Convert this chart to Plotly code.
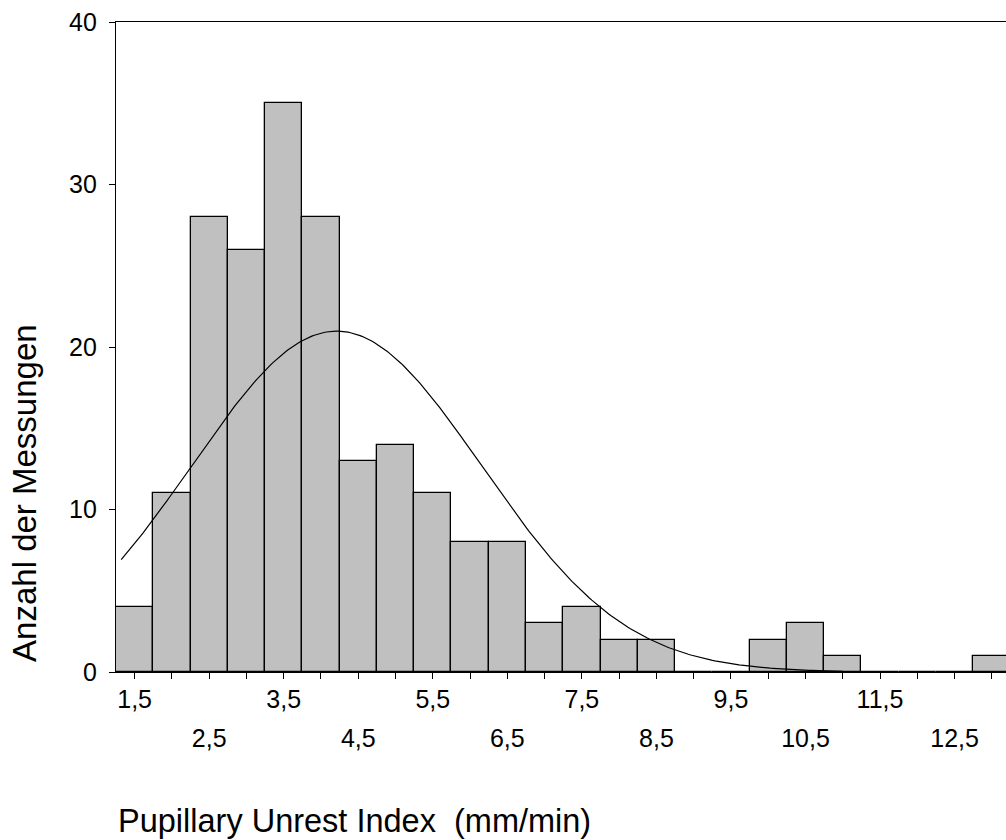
import plotly.graph_objects as go
import math

# Histogram bins (centers, width 0.5) and counts
bin_centers = [1.5, 2.0, 2.5, 3.0, 3.5, 4.0, 4.5, 5.0, 5.5, 6.0, 6.5, 7.0, 7.5,
               8.0, 8.5, 9.0, 9.5, 10.0, 10.5, 11.0, 11.5, 12.0, 12.5, 13.0]
counts = [4, 11, 28, 26, 35, 28, 13, 14, 11, 8, 8, 3, 4,
          2, 2, 0, 0, 2, 3, 1, 0, 0, 0, 1]
bin_width = 0.5

# Fitted normal curve parameters
fit_mean = 4.21
fit_sd = 1.94
curve_start = 1.32
curve_end = 11.0

row1_ticks = [1.5, 3.5, 5.5, 7.5, 9.5, 11.5]
row2_ticks = [2.5, 4.5, 6.5, 8.5, 10.5, 12.5]
minor_ticks = [1.5 + 0.5 * i for i in range(24)]
y_ticks = [0, 10, 20, 30, 40]

def fmt(v):
    return f"{v:.1f}".replace(".", ",")

n_total = sum(counts)
n_pts = 300
cx = [curve_start + (curve_end - curve_start) * i / (n_pts - 1) for i in range(n_pts)]
cy = [n_total * bin_width / (fit_sd * math.sqrt(2 * math.pi)) *
      math.exp(-((x - fit_mean) ** 2) / (2 * fit_sd ** 2)) for x in cx]

FONT = "Liberation Sans, Arial, sans-serif"
XR = [1.25, 13.19]

fig = go.Figure()
fig.add_trace(go.Bar(x=bin_centers, y=counts, width=bin_width,
                     marker=dict(color="#c0c0c0", line=dict(color="black", width=1.3)),
                     showlegend=False, hoverinfo="x+y"))
fig.add_trace(go.Scatter(x=cx, y=cy, mode="lines",
                         line=dict(color="black", width=1.2), showlegend=False))
fig.add_trace(go.Scatter(x=[row2_ticks[0]], y=[0], xaxis="x2", mode="markers",
                         marker=dict(opacity=0), showlegend=False, hoverinfo="skip"))

ticktext1 = [fmt(v) if any(abs(v - t) < 1e-9 for t in row1_ticks) else "" for v in minor_ticks]

fig.update_layout(
    width=1006, height=840,
    margin=dict(l=116, r=0, t=22, b=168),
    paper_bgcolor="white", plot_bgcolor="white",
    font=dict(family=FONT, color="black"),
    bargap=0,
    xaxis=dict(range=XR, tickvals=minor_ticks, ticktext=ticktext1,
               ticks="outside", ticklen=6, tickwidth=1.3, tickcolor="black",
               showline=True, linecolor="black", linewidth=1.3, mirror=True,
               showgrid=False, zeroline=False,
               tickfont=dict(size=25, family=FONT), ticklabelstandoff=-1),
    xaxis2=dict(range=XR, overlaying="x", anchor="y", side="bottom",
                tickvals=row2_ticks, ticktext=[fmt(v) for v in row2_ticks],
                ticks="", showline=False, showgrid=False, zeroline=False,
                tickfont=dict(size=25, family=FONT), ticklabelstandoff=49),
    yaxis=dict(range=[0, 40], tickvals=y_ticks, ticktext=[str(v) for v in y_ticks],
               ticks="outside", ticklen=6, tickwidth=1.3, tickcolor="black",
               showline=True, linecolor="black", linewidth=1.3,
               showgrid=False, zeroline=False,
               tickfont=dict(size=25, family=FONT), ticklabelstandoff=7),
    annotations=[
        dict(text="Pupillary Unrest Index\u00a0 (mm/min)", xref="paper", yref="paper",
             x=0, y=-0.2286, xanchor="left", yanchor="middle", showarrow=False,
             font=dict(size=32.5, family=FONT)),
        dict(text="Anzahl der Messungen", xref="paper", yref="paper",
             x=-0.103, y=0.276, xanchor="center", yanchor="middle", textangle=-90,
             showarrow=False, font=dict(size=33, family=FONT)),
    ],
)

fig.write_html("out.html")
